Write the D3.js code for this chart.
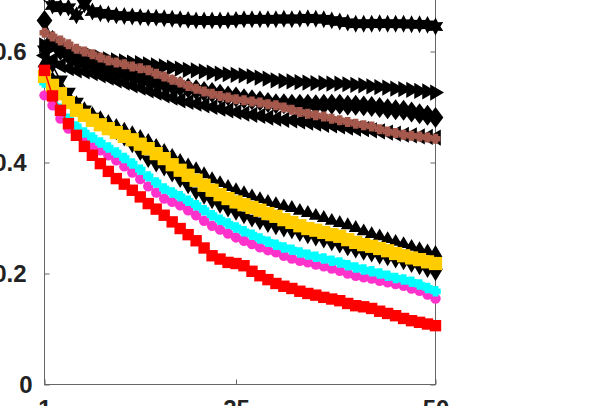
<!DOCTYPE html>
<html><head><meta charset="utf-8">
<script src="https://cdn.jsdelivr.net/npm/d3@7/dist/d3.min.js"></script>
<style>html,body{margin:0;padding:0;background:#fff;overflow:hidden}</style>
</head><body><svg id="c" width="598" height="406"></svg>
<script>
const xValues = d3.range(1, 51);
const xTicks = [1, 25, 50];
const yTicks = [0, 0.2, 0.4, 0.6];
const yTickLabels = ["0", "0.2", "0.4", "0.6"];

const starSeries = [0.705,0.683,0.679,0.679,0.665,0.685,0.672,0.669,0.667,0.665,0.664,0.663,0.662,0.661,0.661,0.660,0.659,0.658,0.657,0.656,0.656,0.656,0.656,0.656,0.657,0.658,0.658,0.658,0.658,0.658,0.659,0.658,0.659,0.660,0.659,0.658,0.656,0.654,0.652,0.650,0.650,0.650,0.651,0.650,0.650,0.650,0.649,0.649,0.648,0.645];
const diamondSeries = [0.656,0.620,0.602,0.594,0.587,0.583,0.579,0.575,0.570,0.566,0.562,0.559,0.555,0.551,0.547,0.544,0.540,0.537,0.534,0.531,0.528,0.526,0.523,0.520,0.518,0.515,0.513,0.511,0.508,0.506,0.506,0.505,0.505,0.505,0.504,0.505,0.505,0.505,0.503,0.503,0.502,0.501,0.499,0.497,0.495,0.494,0.491,0.488,0.485,0.481];
const rightTriSeries = [0.611,0.608,0.606,0.602,0.598,0.595,0.592,0.589,0.586,0.584,0.582,0.580,0.579,0.577,0.575,0.573,0.571,0.569,0.567,0.566,0.564,0.562,0.560,0.559,0.558,0.557,0.555,0.553,0.551,0.548,0.547,0.546,0.545,0.544,0.543,0.543,0.542,0.542,0.541,0.540,0.539,0.537,0.536,0.535,0.533,0.532,0.531,0.529,0.528,0.526];
const leftTriSeries = [0.593,0.585,0.575,0.570,0.566,0.564,0.561,0.557,0.553,0.548,0.544,0.539,0.535,0.530,0.526,0.521,0.517,0.512,0.509,0.506,0.503,0.500,0.497,0.494,0.491,0.488,0.486,0.484,0.481,0.479,0.477,0.476,0.474,0.472,0.470,0.468,0.467,0.465,0.463,0.461,0.460,0.458,0.456,0.454,0.452,0.450,0.449,0.447,0.446,0.445];
const brownSeries = [0.634,0.627,0.620,0.613,0.605,0.600,0.595,0.589,0.584,0.580,0.577,0.573,0.570,0.566,0.560,0.555,0.549,0.544,0.538,0.533,0.528,0.524,0.520,0.517,0.514,0.512,0.510,0.508,0.505,0.503,0.499,0.495,0.491,0.488,0.485,0.483,0.479,0.476,0.473,0.470,0.467,0.465,0.460,0.456,0.453,0.450,0.448,0.447,0.445,0.443];
const upTriSeries = [0.580,0.551,0.533,0.520,0.508,0.497,0.488,0.481,0.474,0.467,0.460,0.454,0.447,0.440,0.431,0.422,0.413,0.404,0.396,0.389,0.380,0.371,0.364,0.357,0.351,0.346,0.340,0.335,0.330,0.326,0.322,0.319,0.314,0.310,0.305,0.301,0.296,0.292,0.288,0.283,0.277,0.272,0.268,0.263,0.258,0.254,0.249,0.245,0.241,0.238];
const downTriSeries = [0.602,0.575,0.548,0.526,0.508,0.494,0.481,0.472,0.463,0.454,0.443,0.431,0.417,0.404,0.396,0.389,0.378,0.368,0.357,0.346,0.338,0.330,0.322,0.315,0.309,0.303,0.297,0.292,0.287,0.283,0.279,0.276,0.271,0.267,0.263,0.259,0.254,0.250,0.245,0.241,0.237,0.234,0.230,0.227,0.223,0.220,0.215,0.211,0.206,0.200];
const magentaSeries = [0.521,0.503,0.479,0.461,0.449,0.440,0.431,0.422,0.413,0.404,0.393,0.382,0.370,0.357,0.346,0.335,0.329,0.323,0.314,0.305,0.295,0.286,0.279,0.272,0.265,0.259,0.253,0.247,0.242,0.238,0.232,0.227,0.223,0.220,0.216,0.213,0.209,0.205,0.200,0.196,0.193,0.191,0.187,0.184,0.181,0.178,0.173,0.169,0.162,0.155];
const cyanSeries = [0.544,0.526,0.497,0.479,0.465,0.454,0.445,0.436,0.427,0.418,0.408,0.398,0.387,0.375,0.364,0.353,0.346,0.339,0.331,0.323,0.314,0.305,0.297,0.290,0.283,0.276,0.270,0.263,0.257,0.252,0.247,0.243,0.238,0.234,0.230,0.227,0.223,0.220,0.215,0.211,0.207,0.204,0.200,0.196,0.192,0.189,0.185,0.180,0.174,0.168];
const goldSeries = [0.555,0.539,0.524,0.508,0.494,0.485,0.476,0.468,0.461,0.454,0.447,0.441,0.433,0.425,0.416,0.407,0.396,0.386,0.377,0.368,0.359,0.350,0.342,0.335,0.329,0.324,0.319,0.314,0.308,0.303,0.297,0.292,0.286,0.281,0.278,0.274,0.270,0.267,0.261,0.256,0.252,0.249,0.245,0.241,0.236,0.232,0.228,0.225,0.221,0.218];
const redSeries = [0.566,0.520,0.494,0.470,0.449,0.429,0.413,0.398,0.384,0.371,0.361,0.350,0.338,0.326,0.316,0.305,0.293,0.281,0.270,0.259,0.246,0.232,0.226,0.220,0.218,0.214,0.204,0.196,0.189,0.182,0.177,0.173,0.168,0.164,0.161,0.157,0.154,0.151,0.146,0.142,0.140,0.137,0.132,0.128,0.124,0.119,0.115,0.112,0.109,0.106];

// custom symbols
const hexagram = {draw(ctx, size){
  const r = Math.sqrt(size/1.5), ri = r*0.55;
  for(let k=0;k<12;k++){const a=-Math.PI/2+k*Math.PI/6, rr=k%2?ri:r;
    const px=rr*Math.cos(a), py=rr*Math.sin(a); k?ctx.lineTo(px,py):ctx.moveTo(px,py);}
  ctx.closePath();}};
const diamondTall = {draw(ctx,size){const h=Math.sqrt(size)*0.78,w=h*0.75;
  ctx.moveTo(0,-h);ctx.lineTo(w,0);ctx.lineTo(0,h);ctx.lineTo(-w,0);ctx.closePath();}};
function tri(dir){return {draw(ctx,size){const r=Math.sqrt(size)*0.62;
  const pts=[[0,-r],[r*0.95,r*0.62],[-r*0.95,r*0.62]];
  const rot={up:0,down:Math.PI,right:Math.PI/2,left:-Math.PI/2}[dir];
  pts.forEach((p,i)=>{const x=p[0]*Math.cos(rot)-p[1]*Math.sin(rot), y=p[0]*Math.sin(rot)+p[1]*Math.cos(rot); i?ctx.lineTo(x,y):ctx.moveTo(x,y);});
  ctx.closePath();}};}
const plusThick = {draw(ctx,size){const r=Math.sqrt(size)/2, t=r*0.55;
  ctx.moveTo(-t,-r);ctx.lineTo(t,-r);ctx.lineTo(t,-t);ctx.lineTo(r,-t);ctx.lineTo(r,t);ctx.lineTo(t,t);ctx.lineTo(t,r);ctx.lineTo(-t,r);ctx.lineTo(-t,t);ctx.lineTo(-r,t);ctx.lineTo(-r,-t);ctx.lineTo(-t,-t);ctx.closePath();}};

const series = [
  {v: starSeries, color: "#000", sym: hexagram, size: 120},
  {v: diamondSeries, color: "#000", sym: diamondTall, size: 180},
  {v: rightTriSeries, color: "#000", sym: tri("right"), size: 190},
  {v: leftTriSeries, color: "#000", sym: tri("left"), size: 190},
  {v: brownSeries, color: "#a5584c", sym: plusThick, size: 100},
  {v: upTriSeries, color: "#000", sym: tri("up"), size: 140},
  {v: downTriSeries, color: "#000", sym: tri("down"), size: 160},
  {v: magentaSeries, color: "#ff33cc", sym: d3.symbolCircle, size: 85},
  {v: cyanSeries, color: "#00ffff", sym: plusThick, size: 110},
  {v: goldSeries, color: "#ffcc00", sym: d3.symbolSquare, size: 175},
  {v: redSeries, color: "#ff0000", sym: d3.symbolSquare, size: 130}
];

const svg = d3.select("#c");
const x = d3.scaleLinear().domain([1, 50]).range([44.5, 435.5]);
const y = d3.scaleLinear().domain([0, 0.7]).range([384.5, -4]);

const axisColor = "#666";
svg.append("rect").attr("x", 44.5).attr("y", -4).attr("width", 391).attr("height", 388.5)
  .attr("fill", "none").attr("stroke", axisColor).attr("stroke-width", 1);

const gy = svg.append("g").attr("transform", "translate(44.5,0)")
  .call(d3.axisLeft(y).tickValues(yTicks).tickSize(-5).tickPadding(18)
    .tickFormat((d,i)=>yTickLabels[i]));
const gy2 = svg.append("g").attr("transform", "translate(435.5,0)")
  .call(d3.axisRight(y).tickValues(yTicks).tickSize(-5).tickFormat(""));
const gx = svg.append("g").attr("transform", "translate(0,384.5)")
  .call(d3.axisBottom(x).tickValues(xTicks).tickSize(-5).tickPadding(15));
[gy, gy2, gx].forEach(g => {
  g.select(".domain").remove();
  g.selectAll(".tick line").attr("stroke", axisColor);
  g.selectAll("text").attr("font-family", "Liberation Sans, Arial, sans-serif")
    .attr("font-size", 24).attr("font-weight", "bold").attr("fill", "#222");
});
gy.selectAll(".tick text").filter(d => d === 0).attr("dx", 6);

const plot = svg.append("g");
series.forEach(s => {
  const pts = s.v.map((v, i) => [xValues[i], v]);
  plot.append("path").datum(pts)
    .attr("fill", "none").attr("stroke", s.color).attr("stroke-width", 1.5)
    .attr("d", d3.line().x(d => x(d[0])).y(d => y(d[1])));
  plot.selectAll(null).data(pts).enter().append("path")
    .attr("transform", d => `translate(${x(d[0])},${y(d[1])})`)
    .attr("d", d3.symbol().type(s.sym).size(s.size))
    .attr("fill", s.color);
});
</script></body></html>
